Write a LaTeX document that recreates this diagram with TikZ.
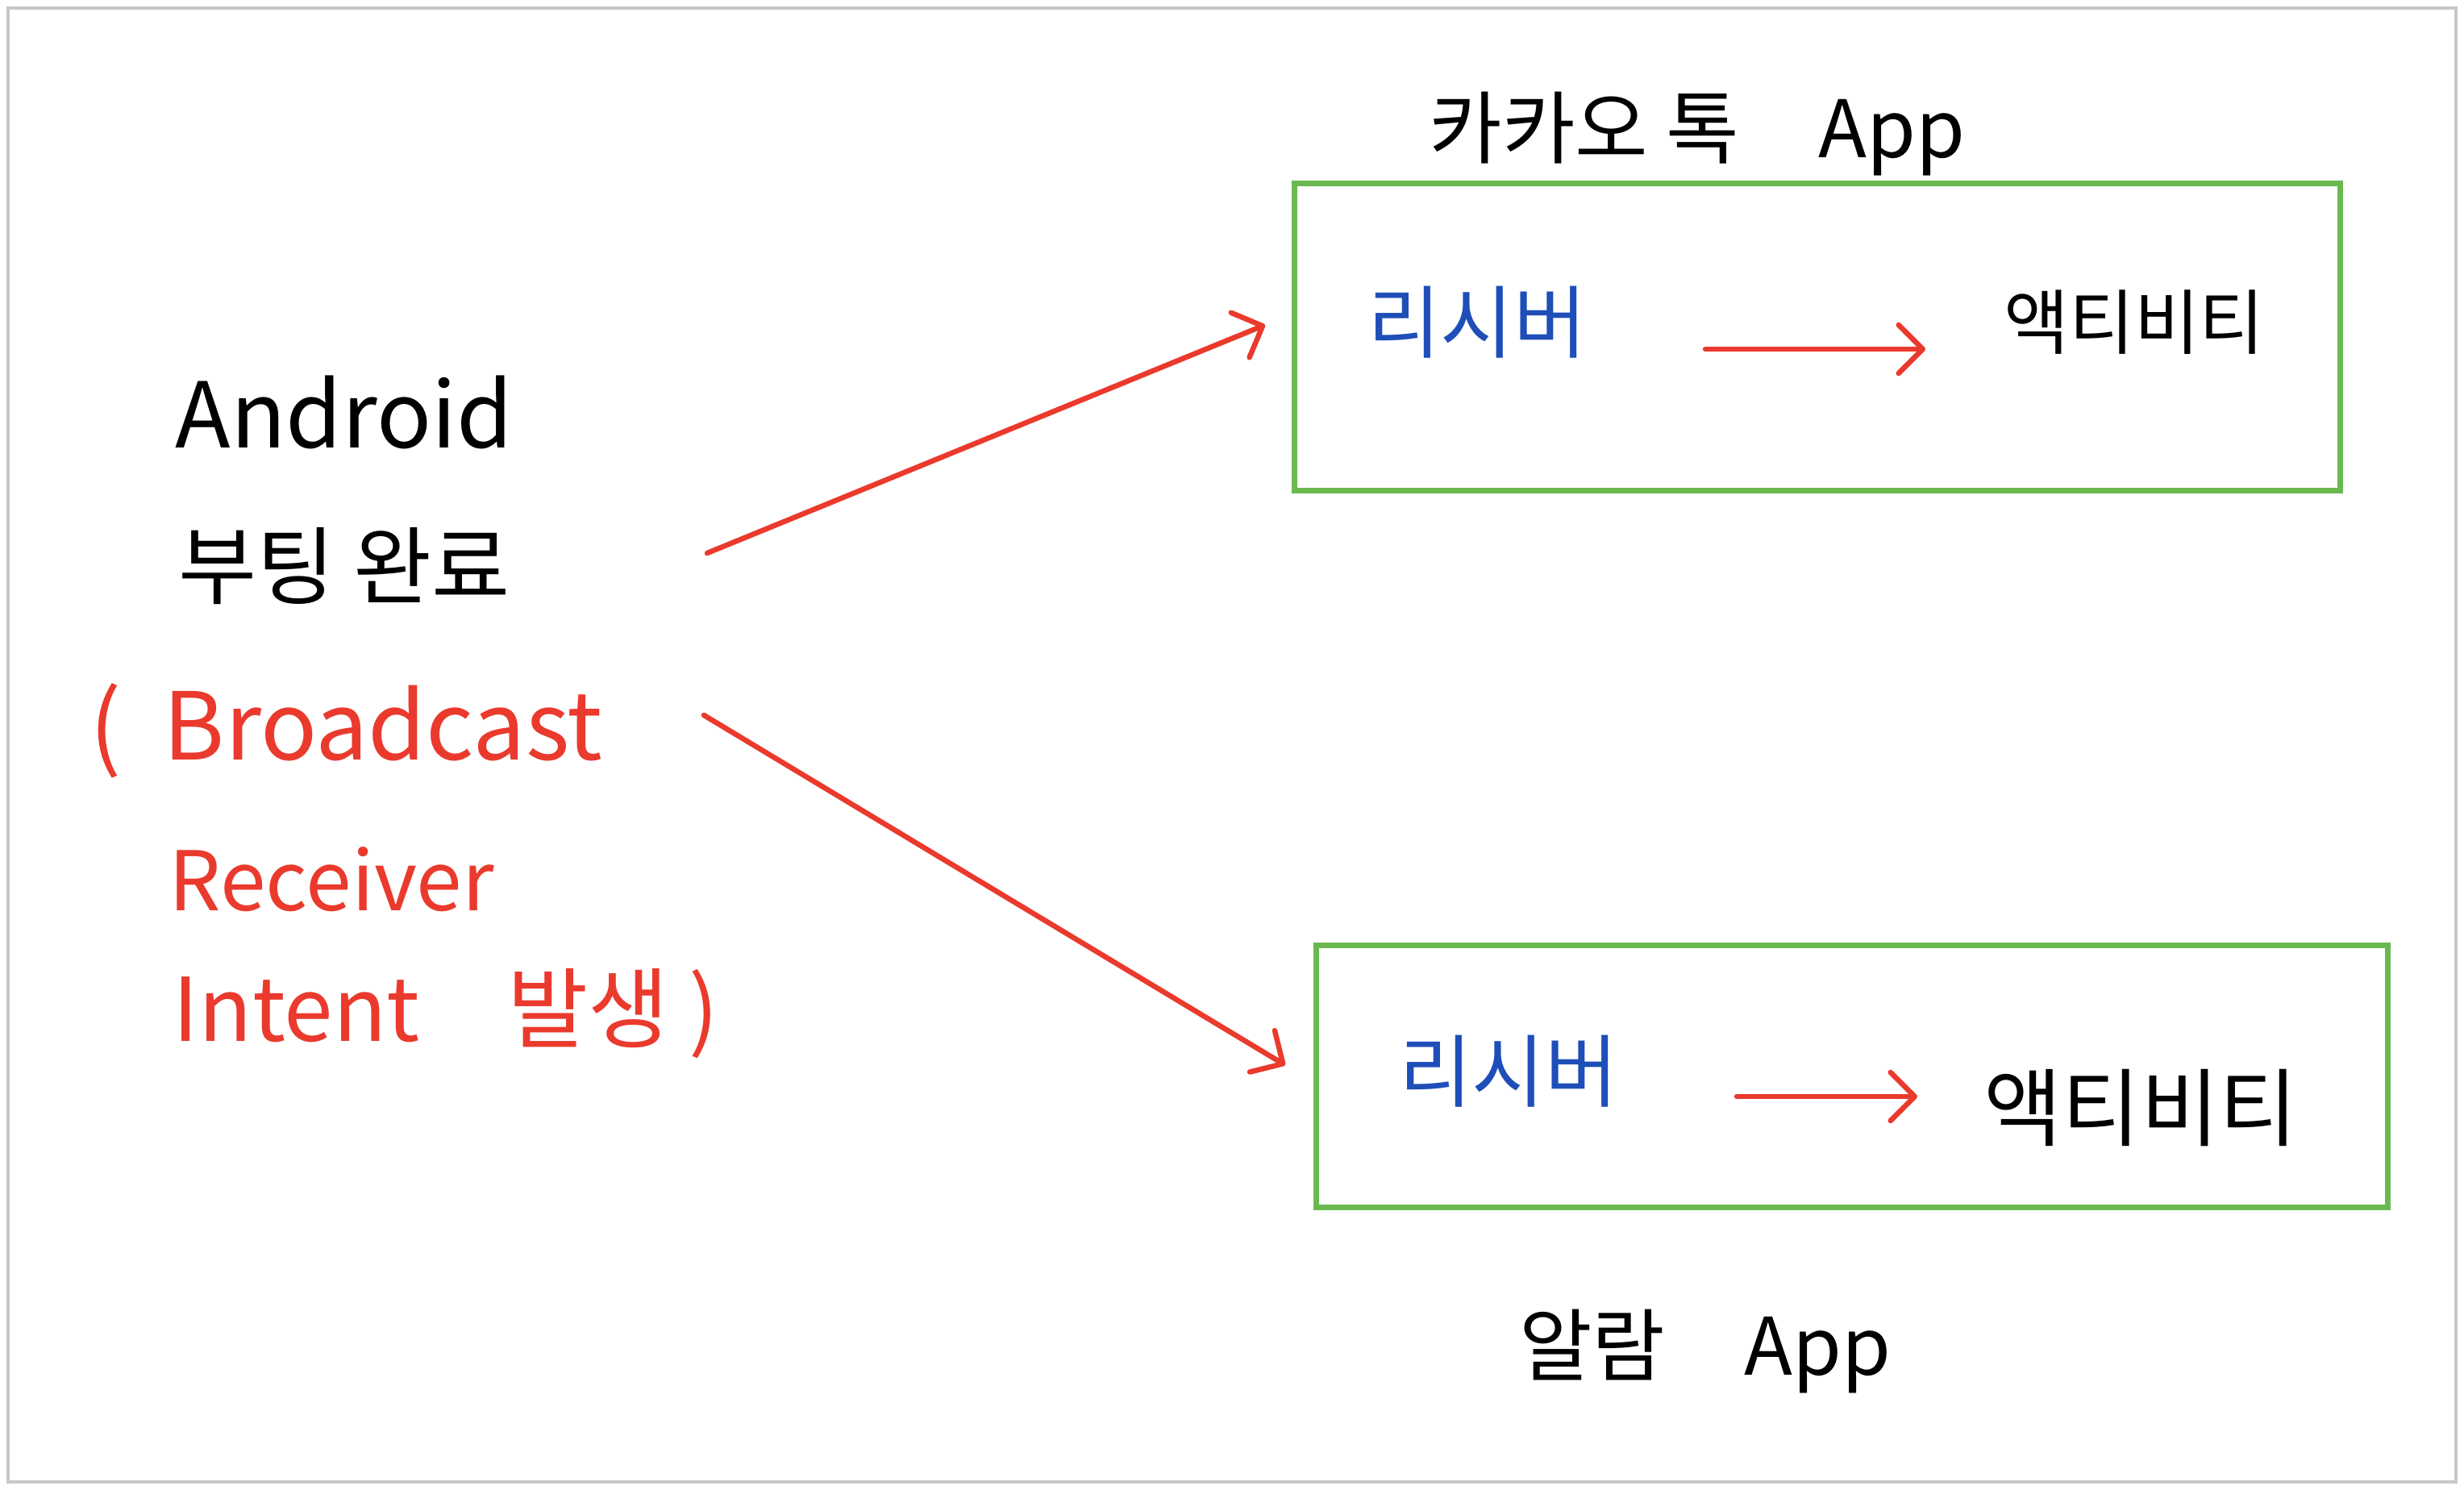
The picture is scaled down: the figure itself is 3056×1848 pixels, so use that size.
\documentclass[tikz,border=0pt]{standalone}
\usepackage{fontspec}
\setmainfont{Noto Sans CJK KR}
\usetikzlibrary{arrows.meta}
\definecolor{hred}{RGB}{234,58,45}
\definecolor{hblue}{RGB}{30,78,184}
\definecolor{hgreen}{RGB}{106,184,80}
\begin{document}
\begin{tikzpicture}[x=0.01cm,y=-0.01cm,
  txt/.style={inner sep=0pt, font=\fontsize{28}{34}\selectfont},
  redtxt/.style={txt, text=hred, anchor=west},
  bluetxt/.style={txt, text=hblue},
  appbox/.style={draw=hgreen, line width=0.07cm, inner sep=0pt},
  flow/.style={draw=hred, line width=0.065cm, line cap=round, -{Straight Barb[length=0.3cm,width=0.6cm,round]}}]
\useasboundingbox (0,0) rectangle (3056,1848);
\draw[black!22, line width=0.04cm] (10,10) rectangle (3046,1838);

% app boxes
\node[appbox, minimum width=12.96cm, minimum height=3.8cm] (kbox) at (2254,418) {};
\node[appbox, minimum width=13.29cm, minimum height=3.24cm] (abox) at (2297,1335) {};

% titles
\node[txt] (ktitle) at (2105,166) {카카오 톡\quad App};
\node[txt] (atitle) at (2115,1676) {알람\quad App};

% inner contents
\node[bluetxt] (rc1) at (1832,400) {리시버};
\node[txt, font=\fontsize{25}{30}\selectfont] (ac1) at (2647,400) {액티비티};
\node[bluetxt] (rc2) at (1871,1329) {리시버};
\node[txt, font=\fontsize{30}{36}\selectfont] (ac2) at (2655,1374) {액티비티};

% left side
\node[txt, font=\fontsize{32}{38}\selectfont] (android) at (427,511) {Android};
\node[txt, font=\fontsize{30}{36}\selectfont] (boot) at (427,702) {부팅 완료};
\node[redtxt, font=\fontsize{33}{38}\selectfont] (bc) at (111,906) {(\ \ Broadcast};
\node[redtxt, font=\fontsize{29}{34}\selectfont] (recv) at (209,1091) {Receiver};
\node[redtxt, font=\fontsize{31}{36}\selectfont] (intent) at (214,1257) {Intent\quad 발생 )};

% connectors
\coordinate (s1) at (877,686);
\coordinate (e1) at (1569,403);
\coordinate (s2) at (873,887);
\coordinate (e2) at (1594,1321);
\draw[flow] (s1) -- (e1);
\draw[flow] (s2) -- (e2);

\coordinate (a1s) at (2115,433);
\coordinate (a1e) at (2388,433);
\coordinate (a2s) at (2154,1360);
\coordinate (a2e) at (2378,1360);
\draw[flow] (a1s) -- (a1e);
\draw[flow] (a2s) -- (a2e);
\end{tikzpicture}
\end{document}
